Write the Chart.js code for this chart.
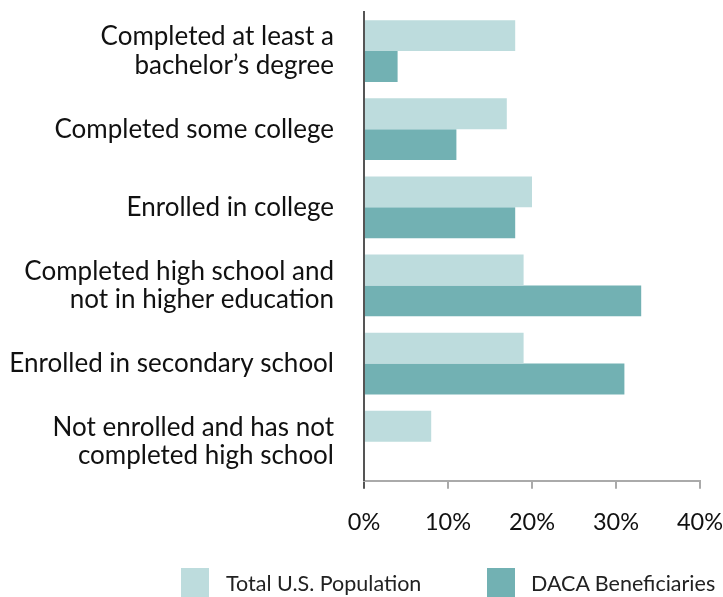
<!DOCTYPE html>
<html>
<head>
<meta charset="utf-8">
<script src="https://cdn.jsdelivr.net/npm/chart.js@4"></script>
<style>
  html, body { margin: 0; padding: 0; background: #fff; overflow: hidden; }
  #wrap { position: relative; width: 723px; height: 597px; }
  #legend { position: absolute; left: 0; top: 568px; width: 723px; height: 40px; font-family: Lato, sans-serif; font-size: 21.5px; color: #222; }
  .item { position: absolute; top: 0; }
  .box { position: absolute; left: 0; top: 0; width: 28px; height: 32px; }
  .lbl { position: absolute; top: 2px; white-space: nowrap; }
</style>
</head>
<body>
<div id="wrap">
  <canvas id="chart" width="723" height="597"></canvas>
  <div id="legend"></div>
</div>
<script>
const categories = [
  ["Completed at least a", "bachelor\u2019s degree"],
  "Completed some college",
  "Enrolled in college",
  ["Completed high school and", "not in higher education"],
  "Enrolled in secondary school",
  ["Not enrolled and has not", "completed high school"]
];
const totalUS = [18, 17, 20, 19, 19, 8];
const daca = [4, 11, 18, 33, 31, 0];
const seriesNames = ["Total U.S. Population", "DACA Beneficiaries"];
const seriesColors = ["#bddcdd", "#72b1b3"];
const xTicks = [0, 10, 20, 30, 40];

const font = "Lato, sans-serif";

const chart = new Chart(document.getElementById("chart"), {
  type: "bar",
  data: {
    labels: categories,
    datasets: [
      { label: seriesNames[0], data: totalUS, backgroundColor: seriesColors[0] },
      { label: seriesNames[1], data: daca, backgroundColor: seriesColors[1] }
    ]
  },
  options: {
    indexAxis: "y",
    responsive: false,
    animation: false,
    categoryPercentage: 0.79,
    barPercentage: 1.0,
    layout: { padding: { top: 12, right: 23, bottom: 40, left: 0 } },
    plugins: { legend: { display: false }, tooltip: { enabled: false } },
    scales: {
      x: {
        min: 0,
        max: 40,
        afterBuildTicks: (s) => { s.ticks = xTicks.map((v) => ({ value: v })); },
        afterFit: (s) => { s.paddingLeft = 0; s.paddingRight = 0; },
        grid: {
          drawOnChartArea: false,
          drawTicks: true,
          tickLength: 8,
          lineWidth: 2,
          color: (c) => (c.index === 0 ? "#555" : "#aaa")
        },
        border: { display: true, color: "#aaa", width: 2 },
        ticks: {
          padding: 20,
          color: "#111",
          font: { family: font, size: 23.5 },
          callback: (v) => v + "%"
        }
      },
      y: {
        afterFit: (s) => { s.width = 364; s.paddingTop = 0; s.paddingBottom = 0; },
        grid: { display: false, drawTicks: false },
        border: { display: true, color: "#555", width: 2 },
        ticks: {
          padding: 30,
          color: "#111",
          font: { family: font, size: 26, lineHeight: 1.1 }
        }
      }
    }
  }
});

// legend built from the chart's datasets
const legend = document.getElementById("legend");
const legendPos = [[181, 226], [487, 531]];
chart.data.datasets.forEach((ds, i) => {
  const item = document.createElement("div");
  item.className = "item";
  item.style.left = legendPos[i][0] + "px";
  item.innerHTML = '<div class="box" style="background:' + ds.backgroundColor + '"></div>' +
    '<div class="lbl" style="left:' + (legendPos[i][1] - legendPos[i][0]) + 'px">' + ds.label + "</div>";
  legend.appendChild(item);
});
</script>
</body>
</html>
